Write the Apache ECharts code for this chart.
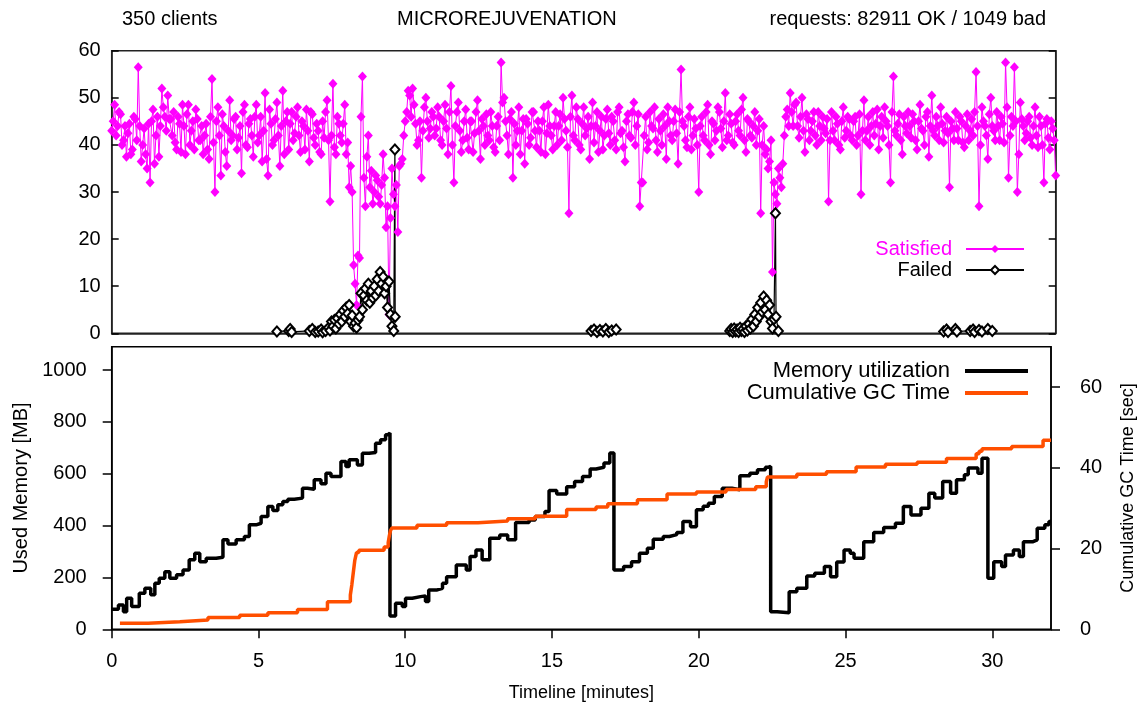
<!DOCTYPE html>
<html><head><meta charset="utf-8">
<script src="https://cdn.jsdelivr.net/npm/echarts@6/dist/echarts.min.js"></script>
<style>html,body{margin:0;padding:0;background:#fff}#c{width:1145px;height:706px}</style>
</head><body><div id="c"></div>
<script>
const FONT = '"Liberation Sans", Arial, Helvetica, sans-serif';

// tick labels
const xTicks = [0, 5, 10, 15, 20, 25, 30];
const reqTicks = [0, 10, 20, 30, 40, 50, 60];
const memTicks = [0, 200, 400, 600, 800, 1000];
const gcTicks = [0, 20, 40, 60];

// Satisfied requests at minutes 0.0, 0.1, ... 32.0
const satisfied = [
  43, 48.5, 44, 46.5, 41, 37.5, 44.5, 39, 45.5, 56.5,
  36.5, 43.5, 35, 32, 47.5, 42, 37.5, 52, 46, 50.5,
  45.5, 47, 39, 44.5, 48.5, 38, 48.5, 43, 39, 45.5,
  41, 38, 44.5, 37, 54, 30, 48, 33.5, 44, 35.5,
  49.5, 42, 46, 41.5, 34, 48.5, 39.5, 45.5, 37.5, 48.5,
  42, 36.5, 51, 33.5, 44.5, 41, 49, 35.5, 51.5, 45,
  39, 47, 42.5, 48, 38.5, 44, 47.5, 36.5, 46.5, 40,
  43, 38, 41.5, 49.5, 28, 53, 38, 44.5, 40.5, 48.5,
  40.5, 35.5, 14.5, 6, 16, 54.5, 27, 42, 34.5, 30,
  32.5, 27.5, 38, 22.5, 4, 35, 27, 21.5, 36, 42,
  47, 50.5, 52, 44.5, 41, 33, 48, 45, 43.5, 46,
  43.5, 46, 40, 48.5, 38, 52.5, 32, 47, 43, 41,
  47.5, 39, 45, 42.5, 49.5, 37, 44, 46.5, 41, 44,
  38.5, 46, 57.5, 50, 42, 45.5, 33, 40, 48, 43,
  36, 44.5, 41.5, 47, 39.5, 43, 45, 38, 48.5, 42,
  44, 40, 46.5, 50, 43, 25.5, 50.5, 41, 45.5, 39,
  48, 43.5, 37, 49, 44, 38.5, 46, 42, 47.5, 40,
  45, 39, 48, 43, 36.5, 46.5, 41.5, 49, 44, 27,
  32, 46, 40.5, 44, 48, 38.5, 43, 46.5, 37, 45,
  41, 47.5, 36, 56, 44, 39.5, 48, 42, 43.5, 30,
  46, 41, 48.5, 38, 44.5, 43, 47, 39.5, 51, 42,
  44.5, 40, 46.5, 42, 50, 38.5, 45, 41.5, 47, 43,
  25.5, 44, 39, 36.5, 13, 29.5, 35, 31, 42, 47.5,
  51, 44, 49, 41.5, 50, 38.5, 45.5, 43, 47, 40,
  44, 46, 42.5, 28, 47, 41, 44.5, 39, 48, 43,
  45.5, 41, 46, 42, 29.5, 49.5, 43, 40, 47, 44.5,
  39, 46, 48, 44, 32, 54.5, 42, 46.5, 38, 44,
  47, 41.5, 45, 39, 48.5, 43, 46, 37.5, 50.5, 42,
  44, 48, 40.5, 46, 31, 43.5, 47, 41, 45, 39.5,
  46.5, 43, 42, 55.5, 27, 48, 44, 37, 50, 43,
  47, 41, 44.5, 57.5, 33, 46, 56.5, 30, 49, 44,
  42.5, 46, 40, 48, 39.5, 44, 32, 45.5, 39, 43.5,
  33.5
];
// Satisfied requests at minutes 0.05, 0.15, ... 31.95
const satisfiedMid = [
  45, 42, 47, 40, 44, 42.5, 38, 46, 41, 44,
  40, 38, 44.5, 45, 36, 46, 44, 48, 43, 45.5,
  42, 40.5, 46, 38.5, 44, 46.5, 40, 45, 47.5, 41,
  44, 42, 39, 46, 40.5, 45, 42, 46.5, 38.5, 43,
  41, 45.5, 39, 44, 47, 40, 44.5, 42, 46, 40.5,
  46, 43, 37, 47.5, 40, 45.5, 42, 44, 38, 47,
  44.5, 41, 46, 42, 45, 39, 43, 47, 41.5, 44.5,
  38.5, 45, 47, 41, 42, 39.5, 46, 42, 44.5, 38,
  31, 30, 10.5, 16.5, 46, 33, 37.5, 31, 27.5, 33.5,
  29, 31.5, 33, 27, 24.5, 29.5, 31.5, 35.5, 37, 45,
  51.5, 46, 48.5, 40, 45, 43, 50, 41.5, 47, 42,
  48, 41, 45, 43.5, 47, 40, 44, 49, 38.5, 45,
  41.5, 45, 38.5, 47, 43, 45.5, 40, 42, 47, 39.5,
  44, 41, 49, 45, 38, 47, 44.5, 43, 38, 45.5,
  45.5, 40, 47, 43, 45, 38.5, 48, 42.5, 44, 39,
  47, 44, 41, 45.5, 39.5, 46, 42, 48, 40, 44.5,
  42, 46, 44, 40.5, 47, 43, 39, 45.5, 42.5, 46,
  41, 47, 42.5, 39.5, 45, 42, 47, 40, 46.5, 32,
  42, 39, 47, 43.5, 41, 45.5, 40, 44, 48, 42,
  45, 42.5, 47, 45, 41, 46, 39, 45.5, 40, 44,
  42, 47, 40, 45, 41, 48, 43.5, 45, 41, 46.5,
  40.5, 45, 43, 47.5, 41, 45.5, 42, 44, 40, 45.5,
  40, 38, 35, 41, 32, 27.5, 33, 36, 46, 44,
  47, 48.5, 44, 46, 43, 46.5, 41, 45, 42, 47,
  41, 43.5, 45.5, 41, 43, 46, 40, 45, 41.5, 46,
  42, 45, 40, 46.5, 43, 41, 46, 44, 42, 47.5,
  44, 41.5, 45, 40, 47, 43, 44.5, 41, 46, 42.5,
  44, 46.5, 41, 45, 43.5, 40, 47, 44, 43, 46,
  41, 44.5, 43, 42.5, 45, 41, 43.5, 46, 40.5, 44,
  41, 45.5, 47, 44, 40, 45, 42, 46.5, 44, 41,
  44, 46, 40.5, 48, 42, 44, 45, 38, 45.5, 41,
  45, 41.5, 44, 42, 46, 40, 44.5, 41.5, 45, 41
];

// Failed requests [minute, count]; null breaks the line
const failed = [
  [5.6,0.4],[6.0,0.5],[6.05,0.9],[6.1,0.3],[6.7,0.5],[6.8,0.9],[6.9,0.3],[7.0,0.4],
  [7.1,0.8],[7.15,0.2],[7.25,0.5],[7.35,1.2],[7.4,0.6],[7.45,2.5],[7.5,1.5],[7.55,2.8],
  [7.6,1.0],[7.65,3.2],[7.7,2.0],[7.75,4.0],[7.8,2.5],[7.85,4.8],[7.9,3.5],[7.95,5.5],
  [8.0,4.2],[8.05,6.0],[8.1,2.5],[8.15,3.8],[8.2,1.5],[8.25,2.2],[8.3,1.2],[8.35,2.8],
  [8.4,3.5],[8.45,8.5],[8.5,5.0],[8.55,8.0],[8.6,9.5],[8.65,7.0],[8.7,10.5],[8.75,6.5],
  [8.8,9.0],[8.85,7.5],[8.9,10.0],[8.95,8.0],[9.0,11.5],[9.05,9.0],[9.1,13.0],[9.15,10.5],
  [9.2,12.0],[9.25,8.5],[9.3,10.0],[9.35,5.5],[9.4,11.0],[9.45,4.0],[9.5,1.5],[9.56,0.5],
  [9.6,39.0],[9.61,3.5],
  null,
  [16.25,0.5],[16.35,0.8],[16.45,0.3],[16.55,0.7],[16.65,0.4],[16.75,0.9],[16.85,0.3],
  [16.95,0.6],[17.1,0.8],
  null,
  [20.95,0.5],[21.0,0.9],[21.05,0.3],[21.1,1.0],[21.15,0.4],[21.2,0.8],[21.25,0.3],[21.3,1.2],
  [21.35,0.5],[21.4,0.9],[21.45,0.3],[21.5,1.5],[21.55,0.6],[21.6,2.0],[21.65,1.0],[21.7,3.0],
  [21.75,1.5],[21.8,4.0],[21.85,2.5],[21.9,5.5],[21.95,3.5],[22.0,6.5],[22.05,4.5],[22.1,7.8],
  [22.15,5.0],[22.2,7.0],[22.25,4.0],[22.3,6.0],[22.35,2.5],[22.4,1.0],[22.45,3.0],[22.5,25.5],
  [22.52,3.5],[22.6,0.5],
  null,
  [28.2,0.4],[28.3,0.8],[28.35,0.3],[28.6,0.9],[28.65,0.4],[29.1,0.5],[29.2,0.8],[29.25,0.3],
  [29.4,0.7],[29.5,0.4],[29.7,0.9],[29.85,0.5]
];

// Memory utilization [minute, MB] (value holds until next point)
const memory = [
  [0,77],[0.23,94],[0.4,68],[0.51,120],[0.68,88],[0.94,139],[1.13,158],[1.33,133],[1.47,178],
  [1.62,197],[1.81,222],[1.98,197],[2.21,210],[2.43,229],[2.64,268],[2.83,293],[3.0,261],
  [3.22,274],[3.56,278],[3.79,345],[3.96,329],[4.24,345],[4.52,358],[4.69,403],[4.92,409],
  [5.09,435],[5.32,474],[5.49,458],[5.66,480],[5.83,493],[6.0,502],[6.22,506],[6.5,544],
  [6.67,540],[6.9,577],[7.13,561],[7.3,602],[7.47,589],[7.81,647],[7.98,628],[8.09,654],
  [8.37,634],[8.54,679],[8.77,682],[8.99,718],[9.16,731],[9.33,750],[9.4,757],[9.48,51],
  [9.67,100],[9.9,88],[10.01,120],[10.24,126],[10.52,129],[10.69,107],[10.8,152],[11.09,158],
  [11.27,178],[11.41,203],[11.74,248],[12.08,229],[12.21,281],[12.41,306],[12.62,268],
  [12.88,351],[13.22,364],[13.49,345],[13.76,412],[14.22,422],[14.43,435],[14.76,454],
  [14.9,535],[15.16,522],[15.5,550],[15.77,570],[16.04,589],[16.3,618],[16.5,625],[16.77,641],
  [16.97,680],[17.11,229],[17.44,242],[17.71,261],[17.98,293],[18.25,313],[18.45,347],
  [18.79,358],[19.0,365],[19.25,373],[19.46,416],[19.72,396],[19.92,461],[20.15,475],
  [20.33,486],[20.53,512],[20.8,544],[21.13,538],[21.4,592],[21.74,602],[22.0,615],
  [22.27,625],[22.38,628],[22.45,68],[22.67,64],[23.08,145],[23.34,158],[23.68,206],
  [23.95,216],[24.28,242],[24.49,203],[24.7,260],[24.95,306],[25.16,293],[25.29,274],
  [25.62,338],[25.96,373],[26.3,393],[26.7,409],[26.97,474],[27.23,441],[27.57,467],
  [27.84,525],[28.04,506],[28.31,570],[28.58,525],[28.78,577],[29.05,596],[29.18,622],
  [29.51,602],[29.65,660],[29.85,197],[30.05,261],[30.32,242],[30.45,287],[30.72,306],
  [30.92,281],[31.06,338],[31.39,345],[31.53,390],[31.79,403],[31.93,416],[32,416]
];

// Cumulative GC time [minute, sec]
const gcTime = [
  [0.28,1.5],[1.24,1.9],[2.32,2.3],[3.28,2.9],[4.36,3.5],[5.32,4.1],[6.33,4.9],[7.35,6.8],
  [8.13,8.5],[8.18,11],[8.23,14],[8.28,17],[8.34,19],[8.42,19.6],[9.28,20.4],[9.42,21.5],
  [9.46,23.2],[9.5,24.5],[9.55,25.1],[10.4,25.8],[11.41,26.4],[12.48,26.8],[13.49,27.4],
  [14.43,28.0],[15.5,29.7],[16.5,30.3],[16.9,31.1],[17.91,32.1],[18.92,33.5],[19.92,34.0],
  [20.93,34.6],[21.94,35.3],[22.3,36.5],[22.34,37.7],[23.34,38.4],[24.35,39.0],[25.36,40.2],
  [26.36,40.9],[27.44,41.4],[28.44,42.3],[29.45,43.5],[29.55,44.1],[29.65,44.7],[30.66,45.3],
  [31.73,46.8],[32,46.8]
];

const satData = [];
satisfied.forEach((v, i) => {
  satData.push([i / 10, v]);
  if (i < satisfiedMid.length) satData.push([i / 10 + 0.05, satisfiedMid[i]]);
});
const failData = failed.map(p => p === null ? ['-', '-'] : p);

const axisLineStyle = { color: '#000', width: 1.5 };
const labelStyle = { fontSize: 20, color: '#000', fontFamily: FONT };
const titleStyle = { fontSize: 20, fontWeight: 'normal', color: '#000', fontFamily: FONT };

const chart = echarts.init(document.getElementById('c'), null, { renderer: 'canvas' });
chart.setOption({
  animation: false,
  backgroundColor: '#fff',
  textStyle: { fontFamily: FONT },
  title: [
    { text: '350 clients', left: 122, top: 9, padding: 0, textStyle: titleStyle },
    { text: 'MICROREJUVENATION', left: 397, top: 9, padding: 0, textStyle: titleStyle },
    { text: 'requests: 82911 OK / 1049 bad', right: 99, top: 9, padding: 0, textStyle: titleStyle }
  ],
  legend: [
    {
      data: [{ name: 'Satisfied', textStyle: { color: '#ff00ff' } }, { name: 'Failed' }],
      orient: 'vertical', align: 'right', right: 120, top: 239, padding: 0,
      itemWidth: 58, itemHeight: 10, itemGap: 1, selectedMode: false,
      textStyle: { fontSize: 20, color: '#000', fontFamily: FONT, padding: [0, 9, 0, 0] }
    },
    {
      data: [{ name: 'Memory utilization', icon: 'rect' }, { name: 'Cumulative GC Time', icon: 'rect' }],
      orient: 'vertical', align: 'right', right: 117, top: 360, padding: 0,
      itemWidth: 63, itemHeight: 4, itemGap: 0, selectedMode: false,
      textStyle: { fontSize: 22, color: '#000', fontFamily: FONT, padding: [0, 10, 0, 0], lineHeight: 22 }
    }
  ],
  grid: [
    { left: 111.7, right: 89.3, top: 50.7, height: 282.6, show: true, borderColor: '#222', borderWidth: 1.5, containLabel: false },
    { left: 111.7, right: 89.3, top: 346.7, height: 282.6, show: true, borderColor: '#000', borderWidth: 1.5, containLabel: false }
  ],
  xAxis: [
    { gridIndex: 0, type: 'value', min: 0, max: 32, axisLabel: { show: false }, axisTick: { show: false },
      splitLine: { show: false }, axisLine: { show: true, lineStyle: { color: '#222', width: 1.5 } } },
    { gridIndex: 1, type: 'value', min: 0, max: 32, interval: 5,
      name: 'Timeline [minutes]', nameLocation: 'middle', nameGap: 55,
      nameTextStyle: { fontSize: 18, color: '#000', fontFamily: FONT },
      axisLine: { show: true, lineStyle: axisLineStyle },
      axisTick: { show: true, length: 9, customValues: xTicks, lineStyle: axisLineStyle },
      axisLabel: Object.assign({ customValues: xTicks, margin: 22 }, labelStyle),
      splitLine: { show: false } }
  ],
  yAxis: [
    { gridIndex: 0, type: 'value', min: 0, max: 60, interval: 10, position: 'left',
      axisLine: { show: true, lineStyle: { color: '#222', width: 1.5 } },
      axisTick: { show: true, inside: true, length: 7, customValues: reqTicks, lineStyle: axisLineStyle },
      axisLabel: Object.assign({ customValues: reqTicks, margin: 11 }, labelStyle),
      splitLine: { show: false } },
    { gridIndex: 0, type: 'value', min: 0, max: 60, interval: 10, position: 'right',
      axisLine: { show: true, lineStyle: { color: '#222', width: 1.5 } },
      axisTick: { show: true, inside: true, length: 7, customValues: reqTicks, lineStyle: axisLineStyle },
      axisLabel: { show: false }, splitLine: { show: false } },
    { gridIndex: 1, type: 'value', min: 0, max: 1090, position: 'left',
      name: 'Used Memory [MB]', nameLocation: 'middle', nameGap: 78, nameRotate: 90,
      nameTextStyle: { fontSize: 20, color: '#000', fontFamily: FONT },
      axisLine: { show: true, lineStyle: axisLineStyle },
      axisTick: { show: true, length: 9, customValues: memTicks, lineStyle: axisLineStyle },
      axisLabel: Object.assign({ customValues: memTicks, margin: 25, formatter: v => String(v) }, labelStyle),
      splitLine: { show: false } },
    { gridIndex: 1, type: 'value', min: 0, max: 70, position: 'right',
      name: 'Cumulative GC Time [sec]', nameLocation: 'middle', nameGap: 68, nameRotate: 90,
      nameTextStyle: { fontSize: 18, color: '#000', fontFamily: FONT },
      axisLine: { show: true, lineStyle: axisLineStyle },
      axisTick: { show: true, length: 9, customValues: gcTicks, lineStyle: axisLineStyle },
      axisLabel: Object.assign({ customValues: gcTicks, margin: 29, formatter: v => String(v) }, labelStyle),
      splitLine: { show: false } }
  ],
  series: [
    { name: 'Satisfied', type: 'line', xAxisIndex: 0, yAxisIndex: 0, data: satData,
      symbol: 'diamond', symbolSize: [9, 10], showAllSymbol: true,
      lineStyle: { color: '#ff00ff', width: 1 }, itemStyle: { color: '#ff00ff' } },
    { name: 'Failed', type: 'line', xAxisIndex: 0, yAxisIndex: 0, data: failData,
      symbol: 'emptyDiamond', symbolSize: [9, 10], showAllSymbol: true, connectNulls: false,
      lineStyle: { color: '#000', width: 1.2 }, itemStyle: { color: '#000', borderColor: '#000', borderWidth: 1 } },
    { name: 'Memory utilization', type: 'line', xAxisIndex: 1, yAxisIndex: 2, data: memory,
      step: 'end', symbol: 'none', lineStyle: { color: '#000', width: 3.5 }, itemStyle: { color: '#000' } },
    { name: 'Cumulative GC Time', type: 'line', xAxisIndex: 1, yAxisIndex: 3, data: gcTime,
      step: 'end', symbol: 'none', lineStyle: { color: '#ff4f00', width: 3.5 }, itemStyle: { color: '#ff4f00' } }
  ]
});
</script></body></html>
